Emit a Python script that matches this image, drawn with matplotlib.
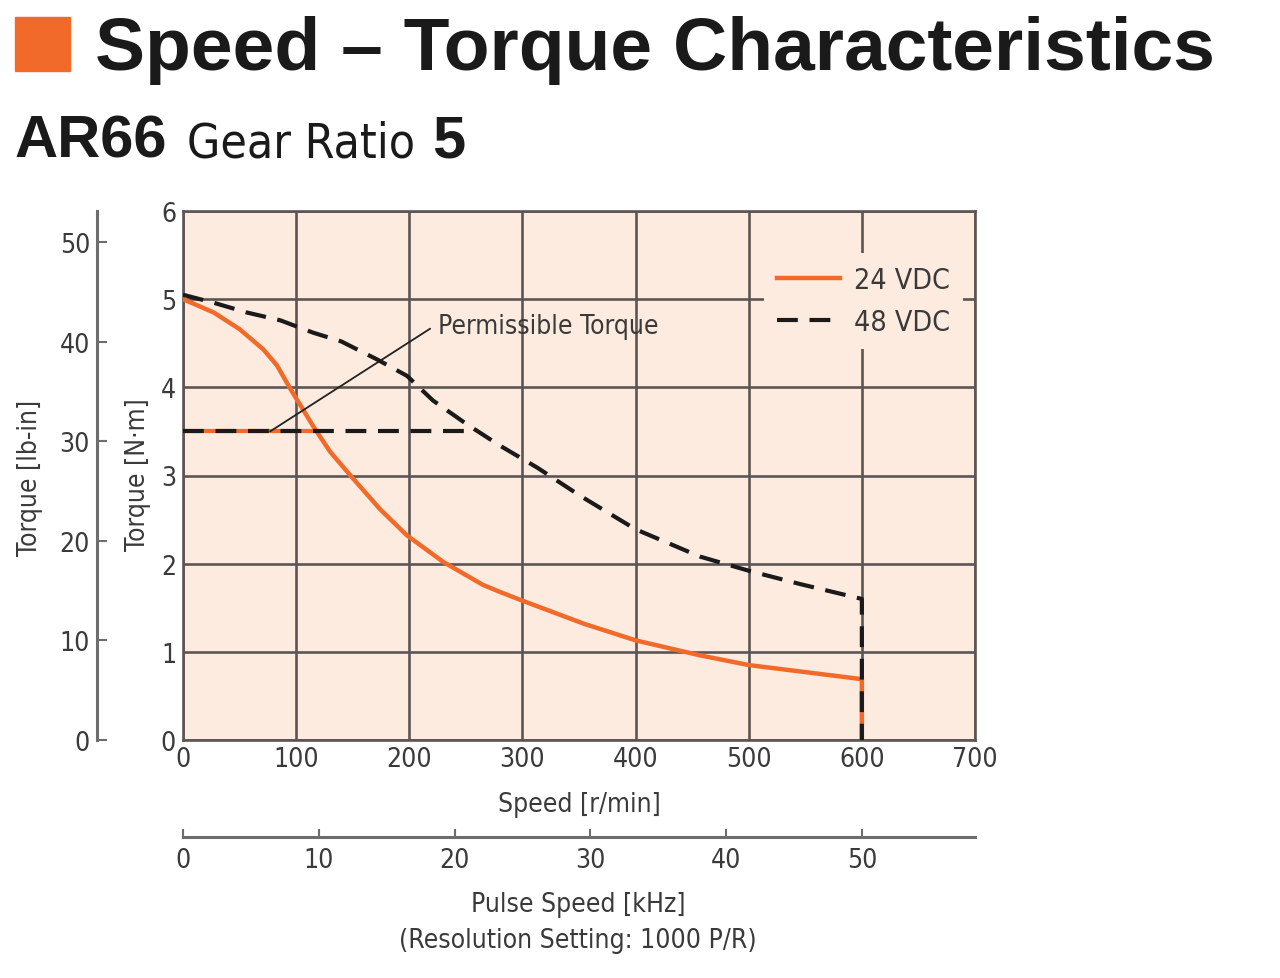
import matplotlib
matplotlib.use("Agg")
import matplotlib.pyplot as plt
from matplotlib import font_manager
from matplotlib.patches import Rectangle

# data
speed_24 = [0, 27, 50, 71, 83, 95, 106, 115, 130, 148, 174, 198, 230, 265, 280,
            300, 354, 400, 457, 500, 550, 600, 600]
torque_24 = [5.00, 4.85, 4.66, 4.43, 4.25, 3.98, 3.75, 3.56, 3.27, 3.00, 2.62, 2.32,
             2.02, 1.76, 1.68, 1.58, 1.32, 1.13, 0.96, 0.85, 0.77, 0.69, 0.0]
speed_48 = [0, 27, 56, 86, 115, 140, 171, 198, 221, 251, 280, 313, 351, 400, 457,
            500, 545, 600, 600]
torque_48 = [5.05, 4.96, 4.85, 4.76, 4.62, 4.52, 4.32, 4.13, 3.85, 3.58, 3.34, 3.09,
             2.77, 2.39, 2.08, 1.92, 1.77, 1.60, 0.0]
perm_torque = 3.5
perm_end_24 = 116
perm_end_48 = 256
speed_ticks = [0, 100, 200, 300, 400, 500, 600, 700]
nm_ticks = [0, 1, 2, 3, 4, 5, 6]
lbin_ticks = [0, 10, 20, 30, 40, 50]
khz_ticks = [0, 10, 20, 30, 40, 50]

NM_TO_LBIN = 8.851
RPM_PER_KHZ = 12.0

ORANGE = "#F26A2A"
BG = "#FDEBDF"
GRID = "#5d5553"
TXT = "#3a3a3a"

# pick a condensed face if one is installed, else Liberation Sans
fonts = font_manager.fontManager.ttflist
names = {f.name for f in fonts}
cond = [f.name for f in fonts
        if f.stretch in ("condensed", "semi-condensed", "extra-condensed")
        and f.style == "normal"]
if "Liberation Sans Narrow" in names:
    narrow = "Liberation Sans Narrow"
elif cond:
    narrow = cond[0]
    plt.rcParams["font.stretch"] = "condensed"
else:
    narrow = "Liberation Sans"
bold = "Liberation Sans" if "Liberation Sans" in names else "DejaVu Sans"
plt.rcParams["font.family"] = [narrow, "DejaVu Sans"]
TS = 19

fig = plt.figure(figsize=(12.8, 9.79), dpi=100)
W, H = 1280, 979


def fx(px):
    return px / W


def fy(py):
    return 1 - py / H


ax = fig.add_axes([fx(183), fy(741), 792 / W, 529 / H])
ax.set_facecolor(BG)
ax.set_xlim(0, 700)
ax.set_ylim(0, 6)
ax.set_xticks(speed_ticks)
ax.set_yticks(nm_ticks)
ax.grid(True, color=GRID, lw=1.9)
for s in ax.spines.values():
    s.set_color(GRID)
    s.set_linewidth(1.9)
ax.tick_params(length=0, labelsize=TS, labelcolor=TXT)
ax.tick_params(axis="x", pad=4)
ax.tick_params(axis="y", pad=5)

# permissible torque lines
ax.plot([0, perm_end_24], [perm_torque, perm_torque], color=ORANGE, lw=3, zorder=3)
ax.plot([0, perm_end_48], [perm_torque, perm_torque], color="#1a1a1a", lw=3,
        dashes=(5, 2.8), zorder=4)

ax.plot(speed_24, torque_24, color=ORANGE, lw=3.2, label="24 VDC", zorder=3)
ax.plot(speed_48, torque_48, color="#1a1a1a", lw=3, dashes=(5, 2.8),
        label="48 VDC", zorder=4)

ax.annotate("Permissible Torque", xy=(77, perm_torque), xytext=(225, 4.69),
            fontsize=TS, color=TXT, ha="left", va="center",
            arrowprops=dict(arrowstyle="-", color="#222222", lw=1.3,
                            shrinkA=4, shrinkB=0, relpos=(0, 0.6)))

leg = ax.legend(loc="upper right", bbox_to_anchor=(0.985, 0.92), borderaxespad=0,
                frameon=True, facecolor=BG, edgecolor="none", framealpha=1,
                fontsize=20.5, handlelength=2.2, handletextpad=0.5,
                labelspacing=0.5, borderpad=0.45)
leg.set_zorder(6)
for t in leg.get_texts():
    t.set_color(TXT)

# torque in lb-in on the far left
sec_y = ax.secondary_yaxis(-0.1086, functions=(lambda v: v * NM_TO_LBIN,
                                               lambda v: v / NM_TO_LBIN))
sec_y.set_yticks(lbin_ticks)
sec_y.tick_params(direction="in", length=7, width=1.5, color="#6d6d6d",
                  labelsize=TS, labelcolor=TXT, pad=5)
sec_y.spines["left"].set_color("#6d6d6d")
sec_y.spines["left"].set_linewidth(2.2)

# pulse speed axis below
sec_x = ax.secondary_xaxis(-0.1834, functions=(lambda v: v / RPM_PER_KHZ,
                                               lambda v: v * RPM_PER_KHZ))
sec_x.set_xticks(khz_ticks)
sec_x.tick_params(direction="in", length=6, width=1.5, color="#6d6d6d",
                  labelsize=TS, labelcolor=TXT, pad=7)
sec_x.spines["bottom"].set_color("#6d6d6d")
sec_x.spines["bottom"].set_linewidth(2.2)

fig.text(fx(138), fy(475), "Torque [N·m]", rotation=90, ha="center", va="center",
         fontsize=TS, color=TXT)
fig.text(fx(30), fy(478), "Torque [lb-in]", rotation=90, ha="center", va="center",
         fontsize=TS, color=TXT)
fig.text(fx(579), fy(805), "Speed [r/min]", ha="center", va="center",
         fontsize=TS, color=TXT)
fig.text(fx(578), fy(905), "Pulse Speed [kHz]", ha="center", va="center",
         fontsize=TS, color=TXT)
fig.text(fx(578), fy(941), "(Resolution Setting: 1000 P/R)", ha="center",
         va="center", fontsize=TS, color=TXT)

# heading
fig.patches.append(Rectangle((fx(15), fy(72)), 55 / W, 54 / H, color=ORANGE,
                             transform=fig.transFigure, figure=fig))
fig.text(fx(95), fy(70), "Speed – Torque Characteristics", fontsize=54,
         fontweight="bold", family=bold, stretch="normal", color="#1a1a1a",
         va="baseline")
fig.text(fx(15), fy(157), "AR66", fontsize=43, fontweight="bold", family=bold,
         stretch="normal", color="#1a1a1a", va="baseline")
fig.text(fx(187), fy(157), "Gear Ratio", fontsize=34.5, color="#1a1a1a",
         va="baseline")
fig.text(fx(432), fy(157), "5", fontsize=43, fontweight="bold", family=bold,
         stretch="normal", color="#1a1a1a", va="baseline")

fig.savefig("out.png", dpi=100, facecolor="white")
